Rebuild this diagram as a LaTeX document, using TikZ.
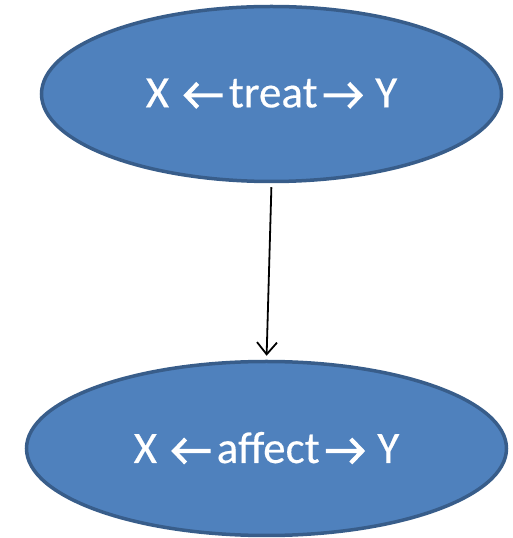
\documentclass[tikz,border=0pt]{standalone}
\usepackage{fontspec}
\setmainfont{Carlito}[FakeBold=0.35]
\usetikzlibrary{shapes.geometric,arrows.meta}
\definecolor{nodefill}{HTML}{4F81BD}
\definecolor{nodeedge}{HTML}{385D8A}
\tikzset{
  oval/.style={ellipse, fill=nodefill, draw=nodeedge, line width=3.5pt,
    text=white, font=\fontsize{45pt}{50pt}\selectfont, inner sep=0pt},
  link/.style={line width=1.8pt, -{Straight Barb[length=12pt,width=20pt]}},
  glyph/.style={white, line width=4.2pt, line join=miter}
}
% arrow glyphs set inline with the label text
\newcommand{\lar}{\tikz[baseline=0pt,x=1pt,y=1pt]{\draw[glyph] (38,12) -- (2,12) (13,24) -- (1.5,12) -- (13,0);}}
\newcommand{\rar}{\tikz[baseline=0pt,x=1pt,y=1pt]{\draw[glyph] (0,12) -- (36,12) (25,24) -- (36.5,12) -- (25,0);}}
\begin{document}
\begin{tikzpicture}[x=1pt,y=1pt]
\useasboundingbox (0,0) rectangle (512,538);
\node[oval, minimum width=460pt, minimum height=175pt] (top) at (271.5,444)
  {X\hspace{15pt}\lar\hspace{4pt}treat\hspace{4pt}\rar\hspace{13pt}Y};
\node[oval, minimum width=480pt, minimum height=174pt] (bot) at (266.5,89.5)
  {X\hspace{15pt}\lar\hspace{4pt}affect\hspace{4pt}\rar\hspace{13pt}Y};
\draw[link, shorten <=4pt, shorten >=4pt] (top.south) -- (bot.north);
\end{tikzpicture}
\end{document}
